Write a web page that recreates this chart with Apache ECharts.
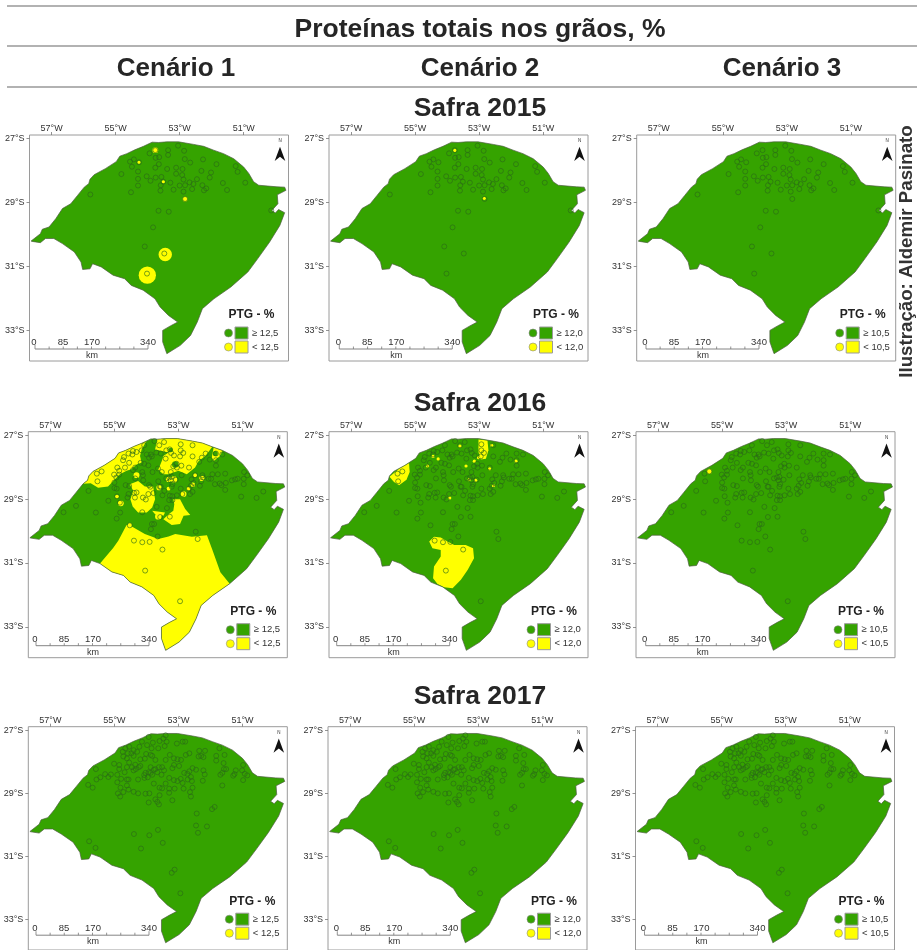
<!DOCTYPE html>
<html><head><meta charset="utf-8">
<style>html,body{margin:0;padding:0;background:#fff}#c{width:917px;height:950px}</style>
<script src="https://cdn.jsdelivr.net/npm/echarts@6/dist/echarts.min.js"></script>
</head><body><div id="c"></div>
<script>
// ---------- chart text ----------
const mainTitle = "Proteínas totais nos grãos, %";
const scenarios = ["Cenário 1","Cenário 2","Cenário 3"];
const harvests = ["Safra 2015","Safra 2016","Safra 2017"];
const thresholds = ["12,5","12,0","10,5"];
const credit = "Ilustração: Aldemir Pasinato";
const lonTicks = [-57,-55,-53,-51];
const latTicks = [-27,-29,-31,-33];
const scaleLabels = ["0","85","170","340"];

// ---------- state outline, lon/lat ----------
const outline = [[-57.64,-30.21],[-57.35,-29.98],[-57.29,-29.84],[-57.08,-29.77],[-56.87,-29.51],[-56.66,-29.19],[-56.40,-29.04],[-56.19,-28.78],[-55.98,-28.52],[-55.84,-28.41],[-55.80,-28.27],[-55.67,-28.13],[-55.32,-27.94],[-54.98,-27.72],[-54.87,-27.55],[-54.65,-27.47],[-54.40,-27.35],[-54.13,-27.24],[-53.86,-27.11],[-53.66,-27.12],[-53.40,-27.10],[-53.03,-27.10],[-52.56,-27.18],[-52.25,-27.24],[-51.94,-27.36],[-51.63,-27.47],[-51.31,-27.63],[-51.00,-27.89],[-50.84,-28.09],[-50.69,-28.35],[-50.53,-28.46],[-49.96,-28.51],[-49.72,-28.52],[-49.68,-28.62],[-49.95,-28.76],[-49.93,-29.04],[-50.12,-29.25],[-50.01,-29.33],[-49.91,-29.22],[-49.72,-29.32],[-49.87,-29.72],[-50.19,-30.24],[-50.56,-30.76],[-50.87,-31.18],[-51.40,-31.65],[-51.93,-32.02],[-52.29,-32.33],[-52.45,-32.75],[-52.66,-33.17],[-52.98,-33.48],[-53.40,-33.74],[-53.53,-33.37],[-53.53,-33.01],[-53.29,-32.87],[-53.06,-32.75],[-53.35,-32.54],[-53.61,-32.28],[-53.77,-32.02],[-54.14,-31.75],[-54.51,-31.60],[-54.72,-31.39],[-55.08,-31.28],[-55.45,-31.02],[-55.72,-30.92],[-55.80,-31.08],[-56.03,-31.10],[-56.08,-30.87],[-56.29,-30.55],[-56.66,-30.29],[-56.93,-30.13],[-57.19,-30.13],[-57.35,-30.26],[-57.61,-30.22]];

// ---------- sampling stations ----------
const stations2015 = [[-53.05,-27.22],[-52.86,-27.38],[-53.36,-27.36],[-53.76,-27.36],[-53.94,-27.46],[-53.36,-27.51],[-53.75,-27.60],[-53.64,-27.58],[-52.84,-27.64],[-52.67,-27.75],[-52.27,-27.65],[-54.55,-27.72],[-54.43,-27.65],[-54.27,-27.74],[-54.49,-27.88],[-53.65,-27.80],[-53.76,-27.91],[-53.39,-27.95],[-53.11,-27.91],[-52.91,-27.95],[-51.85,-27.80],[-51.25,-27.86],[-51.19,-28.04],[-52.32,-28.01],[-52.02,-28.06],[-54.30,-28.03],[-54.82,-28.11],[-53.11,-28.10],[-52.92,-28.14],[-52.06,-28.22],[-54.03,-28.18],[-53.75,-28.22],[-53.57,-28.20],[-54.30,-28.26],[-53.91,-28.32],[-53.51,-28.35],[-52.88,-28.28],[-52.46,-28.27],[-53.29,-28.38],[-52.69,-28.37],[-52.57,-28.42],[-50.95,-28.38],[-51.65,-28.39],[-54.30,-28.47],[-53.59,-28.46],[-53.00,-28.47],[-52.83,-28.46],[-52.29,-28.46],[-52.17,-28.56],[-52.24,-28.62],[-52.61,-28.58],[-53.19,-28.60],[-51.52,-28.61],[-53.60,-28.63],[-52.88,-28.66],[-54.52,-28.68],[-55.79,-28.75],[-52.83,-28.89],[-53.66,-29.26],[-53.34,-29.29],[-50.14,-29.25],[-53.83,-29.78],[-54.09,-30.38],[-53.48,-30.60],[-54.02,-31.23]];
const stations2016 = [[-53.75,-27.18],[-53.60,-27.31],[-53.45,-27.21],[-54.07,-27.31],[-54.15,-27.47],[-54.42,-27.49],[-54.31,-27.52],[-54.44,-27.60],[-54.56,-27.57],[-54.70,-27.68],[-54.73,-27.78],[-54.54,-27.86],[-54.67,-28.01],[-54.91,-28.01],[-54.85,-28.11],[-54.85,-28.23],[-55.01,-28.23],[-54.94,-28.32],[-55.55,-28.20],[-55.40,-28.13],[-55.53,-28.44],[-55.81,-28.74],[-56.59,-29.41],[-56.20,-29.21],[-55.58,-29.42],[-55.19,-29.05],[-55.00,-28.48],[-55.00,-28.65],[-54.93,-28.67],[-54.92,-28.91],[-54.83,-29.11],[-54.82,-29.42],[-54.93,-29.61],[-54.52,-29.82],[-54.39,-30.30],[-54.13,-30.35],[-53.90,-30.34],[-53.86,-29.94],[-53.83,-29.78],[-53.76,-29.78],[-53.65,-30.17],[-53.50,-30.58],[-54.04,-31.24],[-52.95,-32.20],[-52.46,-30.02],[-52.40,-30.25],[-54.13,-29.41],[-53.68,-29.24],[-53.36,-29.28],[-53.57,-29.56],[-53.27,-29.55],[-53.29,-29.03],[-53.19,-28.91],[-53.27,-28.89],[-53.44,-28.74],[-53.50,-28.88],[-53.78,-28.81],[-54.02,-29.01],[-54.11,-28.95],[-54.36,-28.95],[-54.31,-28.79],[-54.59,-28.95],[-54.56,-28.84],[-54.39,-28.80],[-54.65,-28.56],[-54.54,-28.59],[-54.35,-28.35],[-54.11,-28.25],[-54.10,-28.41],[-54.35,-28.01],[-54.42,-28.09],[-54.18,-27.86],[-54.07,-27.89],[-53.94,-27.94],[-53.81,-28.15],[-53.64,-28.04],[-53.52,-28.15],[-53.63,-28.44],[-53.58,-28.61],[-53.92,-28.56],[-53.88,-28.61],[-53.94,-28.84],[-53.23,-27.55],[-53.38,-27.47],[-53.27,-27.44],[-53.69,-27.54],[-53.55,-27.57],[-53.86,-27.60],[-53.99,-27.60],[-53.92,-27.70],[-53.83,-27.66],[-52.93,-27.28],[-52.56,-27.31],[-52.85,-27.55],[-52.93,-27.47],[-52.95,-27.66],[-52.56,-27.66],[-52.35,-27.83],[-52.27,-27.70],[-52.15,-27.57],[-51.83,-27.57],[-51.63,-27.60],[-52.02,-27.76],[-51.83,-27.78],[-51.83,-27.95],[-52.25,-28.25],[-52.23,-28.32],[-52.48,-28.25],[-52.67,-28.01],[-52.91,-27.95],[-53.06,-27.89],[-53.16,-27.97],[-53.05,-28.01],[-53.40,-27.73],[-53.14,-27.63],[-53.24,-28.15],[-53.21,-28.30],[-53.24,-28.41],[-53.38,-28.35],[-53.29,-28.32],[-53.08,-28.39],[-53.19,-28.53],[-53.21,-28.61],[-52.90,-28.25],[-52.93,-28.67],[-52.67,-28.67],[-52.61,-28.58],[-52.53,-28.49],[-52.59,-28.38],[-52.33,-28.58],[-52.29,-28.44],[-52.06,-28.36],[-51.98,-28.36],[-51.94,-28.22],[-51.77,-28.22],[-51.54,-28.20],[-51.86,-28.53],[-51.71,-28.51],[-51.52,-28.49],[-51.66,-28.56],[-51.54,-28.71],[-51.33,-28.41],[-51.23,-28.38],[-51.15,-28.36],[-50.96,-28.36],[-50.96,-28.53],[-50.95,-28.15],[-50.85,-28.25],[-51.04,-28.92],[-50.56,-28.96],[-50.35,-28.76],[-52.56,-28.77],[-52.64,-28.84],[-52.88,-28.84],[-53.05,-28.88],[-53.19,-29.03],[-53.55,-28.61],[-54.13,-28.15]];
const stations2017 = [[-53.40,-27.16],[-53.47,-27.26],[-53.59,-27.34],[-53.37,-27.36],[-53.43,-27.50],[-53.93,-27.21],[-53.80,-27.39],[-54.14,-27.36],[-53.98,-27.47],[-54.22,-27.52],[-53.63,-27.57],[-53.84,-27.57],[-53.05,-27.42],[-52.87,-27.36],[-52.79,-27.36],[-52.35,-27.65],[-52.17,-27.65],[-52.29,-27.81],[-52.37,-27.83],[-52.22,-27.85],[-51.82,-27.81],[-51.82,-27.96],[-51.72,-27.57],[-51.56,-27.78],[-51.59,-28.04],[-51.51,-28.23],[-51.58,-28.23],[-51.63,-28.35],[-51.69,-28.41],[-51.21,-28.27],[-51.25,-28.39],[-51.29,-28.44],[-51.01,-28.27],[-50.93,-28.38],[-50.85,-28.43],[-50.98,-28.58],[-50.98,-28.10],[-51.63,-28.75],[-51.87,-29.43],[-51.95,-29.50],[-52.43,-29.64],[-52.45,-30.02],[-52.11,-30.05],[-52.39,-30.25],[-53.64,-30.16],[-53.91,-30.33],[-54.39,-30.29],[-53.49,-30.57],[-54.17,-30.75],[-53.12,-31.42],[-53.21,-31.52],[-52.94,-32.17],[-55.79,-30.52],[-55.59,-30.73],[-55.58,-28.23],[-55.82,-28.73],[-55.68,-28.82],[-55.56,-28.56],[-55.44,-28.49],[-55.29,-28.39],[-55.19,-28.48],[-55.11,-28.40],[-55.01,-28.06],[-54.85,-28.10],[-54.91,-28.41],[-54.68,-28.33],[-54.79,-28.54],[-54.61,-28.56],[-54.56,-28.56],[-54.91,-28.65],[-54.81,-28.82],[-54.61,-28.75],[-54.72,-28.96],[-54.56,-28.88],[-54.89,-29.00],[-54.82,-29.10],[-54.40,-28.95],[-54.26,-29.00],[-54.03,-29.01],[-53.91,-29.00],[-53.93,-29.29],[-53.72,-29.19],[-53.66,-29.27],[-53.61,-29.35],[-53.59,-29.06],[-53.59,-28.82],[-53.51,-28.84],[-53.29,-28.85],[-53.29,-28.98],[-53.12,-28.85],[-53.19,-29.22],[-52.84,-28.85],[-52.56,-28.82],[-52.64,-28.96],[-52.61,-29.10],[-54.26,-28.56],[-54.06,-28.51],[-54.07,-28.42],[-53.93,-28.33],[-53.82,-28.41],[-53.96,-28.49],[-53.77,-28.69],[-53.40,-28.69],[-53.29,-28.51],[-53.14,-28.58],[-53.03,-28.61],[-52.87,-28.67],[-52.93,-28.54],[-52.71,-28.56],[-52.58,-28.61],[-52.24,-28.60],[-52.18,-28.40],[-52.22,-28.27],[-52.45,-28.25],[-52.56,-28.20],[-52.66,-28.30],[-52.72,-28.38],[-52.61,-28.48],[-52.82,-28.35],[-52.98,-28.13],[-53.14,-28.10],[-53.19,-28.20],[-53.40,-27.94],[-53.27,-27.78],[-53.14,-27.89],[-53.03,-27.92],[-52.92,-27.94],[-52.77,-27.78],[-52.66,-27.73],[-53.87,-28.17],[-53.72,-28.23],[-53.61,-28.17],[-53.51,-28.17],[-53.45,-28.27],[-53.53,-28.41],[-53.66,-28.33],[-53.77,-28.25],[-53.87,-28.35],[-54.03,-28.35],[-54.40,-28.27],[-54.33,-28.23],[-54.24,-28.17],[-54.19,-28.13],[-54.35,-28.09],[-54.45,-28.17],[-54.61,-28.17],[-54.54,-28.02],[-54.61,-27.89],[-54.19,-27.92],[-54.05,-27.90],[-54.40,-27.81],[-54.72,-27.83],[-54.58,-27.73],[-54.47,-27.73],[-54.29,-27.68],[-54.74,-27.68],[-54.66,-27.57],[-54.54,-27.52],[-54.40,-27.63],[-54.01,-27.75],[-53.87,-27.78],[-53.82,-27.81],[-53.72,-27.94],[-54.85,-28.23]];

// ---------- zones below the threshold: polygons [lon,lat], spots [lon,lat,radius in degrees] ----------
const z16c1South = [[-55.45,-31.02],[-55.04,-30.53],[-54.88,-30.30],[-54.62,-29.81],[-54.47,-29.85],[-54.05,-30.09],[-53.63,-30.25],[-53.31,-30.17],[-53.10,-30.09],[-52.58,-30.18],[-52.11,-30.13],[-51.95,-30.56],[-51.69,-31.29],[-51.40,-31.65],[-51.93,-32.02],[-52.29,-32.33],[-52.45,-32.75],[-52.66,-33.17],[-52.98,-33.48],[-53.40,-33.74],[-53.53,-33.37],[-53.53,-33.01],[-53.29,-32.87],[-53.06,-32.75],[-53.35,-32.54],[-53.61,-32.28],[-53.77,-32.02],[-54.14,-31.75],[-54.51,-31.60],[-54.72,-31.39],[-55.08,-31.28]];
const z16c1NorthWest = [[-55.98,-28.52],[-55.84,-28.41],[-55.80,-28.27],[-55.67,-28.13],[-55.32,-27.94],[-54.98,-27.72],[-54.87,-27.55],[-54.65,-27.47],[-54.40,-27.35],[-54.13,-27.24],[-54.00,-27.18],[-54.15,-27.44],[-54.20,-27.65],[-54.15,-27.85],[-54.31,-27.91],[-54.47,-28.06],[-54.62,-28.11],[-54.83,-28.22],[-54.99,-28.38],[-55.20,-28.60],[-55.51,-28.64],[-55.74,-28.50]];
const z16c1North = [[-53.66,-27.12],[-53.40,-27.10],[-53.03,-27.10],[-52.56,-27.18],[-52.25,-27.24],[-51.94,-27.36],[-52.16,-27.65],[-52.37,-27.80],[-52.48,-28.01],[-52.74,-28.22],[-53.00,-28.11],[-53.31,-28.22],[-53.47,-28.22],[-53.63,-28.08],[-53.52,-27.80],[-53.47,-27.65],[-53.31,-27.54],[-53.52,-27.49],[-53.73,-27.44]];
const z16c1NorthEast = [[-51.90,-27.38],[-51.62,-27.48],[-51.72,-27.66],[-51.90,-27.80],[-51.96,-27.70]];
const z16c1CentreW = [[-54.52,-28.53],[-54.26,-28.43],[-54.05,-28.60],[-53.79,-28.60],[-53.73,-29.00],[-53.82,-29.26],[-53.99,-29.42],[-54.26,-29.42],[-54.43,-29.23],[-54.50,-29.00],[-54.41,-28.74]];
const z16c1CentreE = [[-53.16,-29.00],[-52.95,-29.00],[-52.79,-29.31],[-52.63,-29.50],[-52.84,-29.52],[-52.95,-29.78],[-53.21,-29.81],[-53.47,-29.63],[-53.31,-29.47],[-53.16,-29.36],[-53.13,-29.16]];
const z16c1Strip = [[-53.82,-29.36],[-53.42,-29.42],[-53.47,-29.52],[-53.73,-29.47]];
const z16c1Green = [[-53.24,-27.46,0.07],[-53.10,-27.91,0.10],[-51.85,-27.57,0.08],[-53.63,-27.56,0.08]];
const z16c1Spots = [[-54.92,-28.92,0.06],[-54.80,-29.13,0.09],[-54.31,-28.25,0.09],[-54.34,-28.60,0.10],[-53.61,-28.64,0.08],[-53.31,-28.67,0.06],[-52.69,-28.67,0.06],[-53.14,-28.38,0.10],[-53.31,-28.38,0.08],[-52.27,-28.35,0.08],[-52.48,-28.25,0.06],[-52.55,-28.55,0.07],[-52.84,-28.84,0.09],[-53.63,-29.54,0.10],[-54.52,-29.81,0.07]];
const z16c2West = [[-55.80,-28.30],[-55.50,-28.05],[-55.19,-27.87],[-55.17,-28.15],[-55.27,-28.39],[-55.50,-28.56],[-55.66,-28.46]];
const z16c2North = [[-53.02,-27.13],[-52.74,-27.16],[-52.71,-27.47],[-52.79,-27.73],[-52.95,-27.76],[-53.02,-27.52]];
const z16c2South = [[-54.56,-30.33],[-54.41,-30.18],[-54.20,-30.20],[-53.99,-30.33],[-53.78,-30.44],[-53.42,-30.44],[-53.19,-30.54],[-53.16,-30.85],[-53.36,-31.22],[-53.57,-31.53],[-53.83,-31.79],[-54.09,-31.76],[-54.30,-31.66],[-54.44,-31.48],[-54.41,-31.11],[-54.20,-30.80],[-54.20,-30.59],[-54.46,-30.54]];
const z16c2Spots = [[-53.60,-27.34,0.05],[-54.44,-27.66,0.05],[-54.28,-27.74,0.05],[-54.61,-27.96,0.05],[-53.41,-27.96,0.05],[-53.15,-27.81,0.05],[-53.02,-27.70,0.05],[-52.61,-27.31,0.05],[-51.85,-27.81,0.05],[-52.67,-28.05,0.05],[-53.31,-28.39,0.05],[-53.11,-28.41,0.05],[-52.55,-28.58,0.05],[-53.92,-28.96,0.05]];
const z16c3Spots = [[-55.40,-28.13,0.08]];
const z15c1Spots = [[-53.76,-27.36,0.09],[-54.27,-27.74,0.05],[-53.51,-28.35,0.05],[-52.83,-28.89,0.08],[-53.45,-30.63,0.21],[-54.01,-31.28,0.27]];
const z15c2Spots = [[-53.76,-27.37,0.05],[-52.84,-28.87,0.05]];

// ---------- styling and layout ----------
const FONT = '"Liberation Sans", Arial, sans-serif';
const GREEN = '#35a300', YELLOW = '#ffff00', RING = '#2a6a18', GREY = '#9a9a9a', INK = '#262626';
const PANEL_W = 259, PANEL_H = 226;
const panelLeft = [[29.5,329,636.7],[28.3,329,636],[28.3,328,635.5]];
const panelTop = [135,431.7,726.7];
const legendDx = [[0,5,4],[3,3,3],[2,4,4]];
const barDx = [[5.5,10.3,9.3],[7.7,7.7,9.7],[7.7,9.3,9]];
const rowDy = [0,0,-5.5];
const stationsByRow = [stations2015,stations2016,stations2017];
const zonesByPanel = [
 [{spots:z15c1Spots},{spots:z15c2Spots},{}],
 [{polys:[z16c1South,z16c1NorthWest,z16c1North,z16c1NorthEast,z16c1CentreW,z16c1CentreE,z16c1Strip],green:z16c1Green,spots:z16c1Spots},
  {polys:[z16c2West,z16c2North,z16c2South],spots:z16c2Spots},{spots:z16c3Spots}],
 [{},{},{}]
];

const grid=[],xAxis=[],yAxis=[],series=[],graphic=[];

function polySeries(i,pts,fill,stroke,z){
  return {type:'custom',xAxisIndex:i,yAxisIndex:i,coordinateSystem:'cartesian2d',silent:true,clip:false,z,
    data:pts,encode:{x:0,y:1},animation:false,
    renderItem:(p,api)=> p.dataIndex!==0?null:{type:'polygon',
      shape:{points:pts.map(q=>api.coord(q))},
      style:{fill:fill,stroke:stroke||null,lineWidth:stroke?0.7:0}}};
}
function spotSeries(i,pts,fill,z){
  return {type:'custom',xAxisIndex:i,yAxisIndex:i,coordinateSystem:'cartesian2d',silent:true,clip:false,z,
    data:pts,encode:{x:0,y:1},animation:false,
    renderItem:(p,api)=>{const c=api.coord([api.value(0),api.value(1)]);
      return {type:'circle',shape:{cx:c[0],cy:c[1],r:api.size([api.value(2),0])[0]},style:{fill:fill}};}};
}
function text(str,x,y,size,opt){
  graphic.push(Object.assign({type:'text',x,y,silent:true,z:50,style:{text:str,fontFamily:FONT,fontSize:size,
    fontWeight:(opt&&opt.bold)?'bold':'normal',fill:(opt&&opt.fill)||INK,textAlign:(opt&&opt.align)||'center',textVerticalAlign:'middle'}},(opt&&opt.extra)||{}));
}
function line(x1,y1,x2,y2,color,w){
  graphic.push({type:'line',silent:true,z:50,shape:{x1,y1,x2,y2},style:{stroke:color,lineWidth:w}});
}
function rect(x,y,w,h,fill){
  graphic.push({type:'rect',silent:true,z:50,shape:{x,y,width:w,height:h},style:{fill,stroke:GREY,lineWidth:1}});
}
function dot(cx,cy,fill){
  graphic.push({type:'circle',silent:true,z:50,shape:{cx,cy,r:4},style:{fill,stroke:'#888',lineWidth:0.6}});
}

for(let r=0;r<3;r++)for(let c=0;c<3;c++){
  const i=grid.length, L=panelLeft[r][c], T=panelTop[r];
  grid.push({left:L,top:T,width:PANEL_W,height:PANEL_H,show:true,borderColor:GREY,borderWidth:1,backgroundColor:'#fff',containLabel:false});
  xAxis.push({gridIndex:i,type:'value',position:'top',min:-57.69,max:-49.6,
    axisLine:{show:false},splitLine:{show:false},
    axisTick:{show:true,length:3,customValues:lonTicks,lineStyle:{color:'#777',width:0.8}},
    axisLabel:{show:true,customValues:lonTicks,margin:2,fontSize:9,fontFamily:FONT,color:'#333',formatter:v=>Math.abs(v)+'°W'}});
  yAxis.push({gridIndex:i,type:'value',min:-33.97,max:-26.885,
    axisLine:{show:false},splitLine:{show:false},
    axisTick:{show:true,length:3,customValues:latTicks,lineStyle:{color:'#777',width:0.8}},
    axisLabel:{show:true,customValues:latTicks,margin:5,fontSize:9,fontFamily:FONT,color:'#333',formatter:v=>Math.abs(v)+'°S'}});
  const z=zonesByPanel[r][c];
  series.push(polySeries(i,outline,GREEN,null,2));
  (z.polys||[]).forEach(p=>series.push(polySeries(i,p,YELLOW,null,3)));
  if(z.green)series.push(spotSeries(i,z.green,GREEN,4));
  if(z.spots)series.push(spotSeries(i,z.spots,YELLOW,5));
  series.push(polySeries(i,outline,'transparent','#4d5d40',6));
  series.push({type:'scatter',xAxisIndex:i,yAxisIndex:i,data:stationsByRow[r],symbol:'circle',symbolSize:5,silent:true,z:7,animation:false,
    itemStyle:{color:'transparent',borderColor:RING,borderWidth:0.8}});

  // north arrow
  const nx=L+250.5, ny=T;
  text('N',nx,ny+5.7,4.5,{fill:'#333',extra:{}});
  graphic.push({type:'polygon',silent:true,z:50,shape:{points:[[nx,ny+11.7],[nx+5.3,ny+26],[nx,ny+21.7],[nx-5.3,ny+26]]},style:{fill:'#111'}});

  // legend
  const lx=L+legendDx[r][c], dy=rowDy[r];
  text('PTG - %',lx+222,T+180+dy,12,{bold:true,fill:'#222'});
  dot(lx+199,T+198+dy,GREEN); rect(lx+205.5,T+192+dy,13,12,GREEN);
  dot(lx+199,T+212+dy,YELLOW); rect(lx+205.5,T+206+dy,13,12,YELLOW);
  text('≥ '+thresholds[c],lx+222.5,T+198+dy,9.5,{align:'left',fill:'#333'});
  text('< '+thresholds[c],lx+222.5,T+212+dy,9.5,{align:'left',fill:'#333'});

  // scale bar
  const bx=L+barDx[r][c], by=T+214+dy;
  line(bx,by,bx+113,by,'#777',0.9);
  for(let k=0;k<=8;k++) line(bx+k*113/8,by,bx+k*113/8,by-((k===0||k===8)?4:2.5),'#777',0.8);
  [ -1,28,57,113 ].forEach((o,k)=>text(scaleLabels[k],bx+o,by-6.5,9.5,{fill:'#333'}));
  text('km',bx+57,by+6.5,9,{fill:'#333'});
}

// header
[6,46,87].forEach(y=>line(7,y,917,y,'#999',1.4));
text(mainTitle,480,29.5,26.5,{bold:true});
[176,480,782].forEach((x,k)=>text(scenarios[k],x,68.5,26,{bold:true}));
[108.5,403.5,696.5].forEach((y,k)=>text(harvests[k],480,y,26.5,{bold:true}));
graphic.push({type:'text',x:907,y:251.5,rotation:Math.PI/2,silent:true,z:50,
  style:{text:credit,fontFamily:FONT,fontSize:18.7,fontWeight:'bold',fill:'#333',textAlign:'center',textVerticalAlign:'middle'}});

const chart=echarts.init(document.getElementById('c'),null,{width:917,height:950});
chart.setOption({animation:false,backgroundColor:'#fff',grid,xAxis,yAxis,series,graphic,tooltip:{show:false}});
</script></body></html>
